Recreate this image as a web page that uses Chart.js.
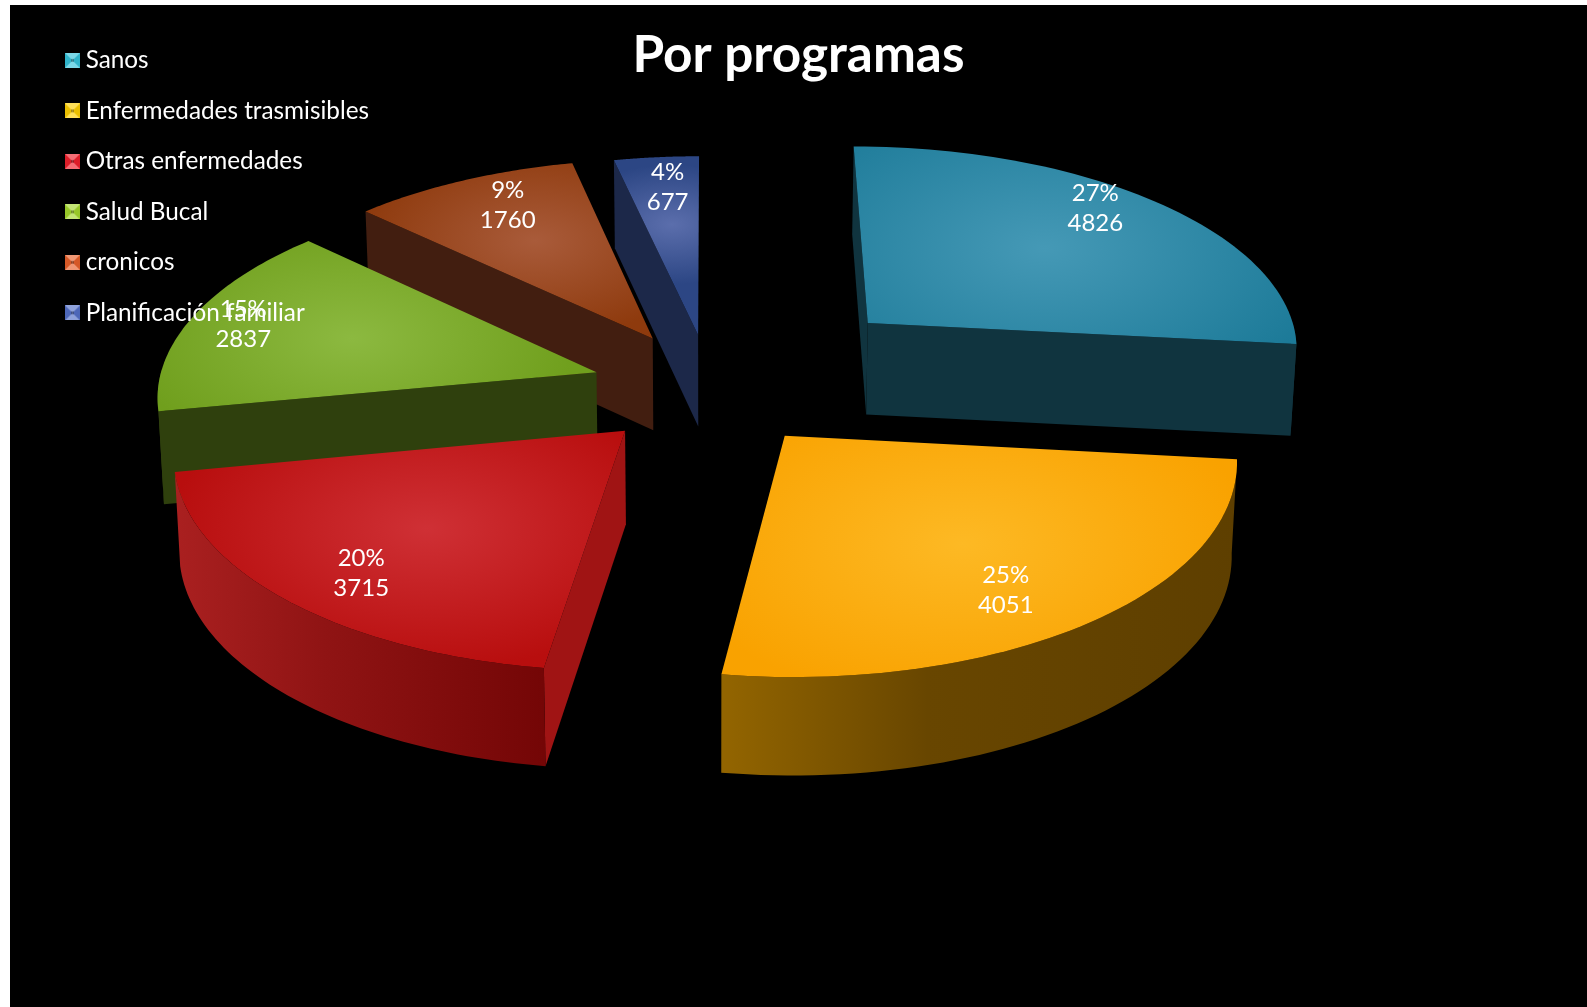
<!DOCTYPE html>
<html>
<head>
<meta charset="utf-8">
<title>Por programas</title>
<script src="https://cdn.jsdelivr.net/npm/chart.js@4"></script>
<style>
  html, body { margin: 0; background: #fff; height: 100%; overflow: hidden; }
  #wrap { position: absolute; left: 10px; top: 5px; width: 1577px; height: 1002px; background: #000; }
</style>
</head>
<body>
<div id="wrap"><canvas id="my-chart" width="1577" height="1002"></canvas></div>
<script>
const programas = ["Sanos", "Enfermedades trasmisibles", "Otras enfermedades", "Salud Bucal", "cronicos", "Planificación familiar"];
const porcentajes = [27, 25, 20, 15, 9, 4];
const casos = [4826, 4051, 3715, 2837, 1760, 677];
// share of the pie as measured on the drawn slices, the labels above are rounded
const partes = [26.7, 25.6, 19.7, 15.1, 9.4, 3.5];

// colours
const colorLeyenda = ["#35c4dc", "#ffd000", "#f0202c", "#a4d82c", "#e8602a", "#5470c8"];
const colorCentro = ["#4599b6", "#fdb924", "#cf3035", "#8cb940", "#a95b3a", "#5b6eac"];
const colorBorde = ["#1c7a98", "#f9a200", "#b80e0e", "#709f1d", "#8e3a0d", "#2c4684"];
const colorMuro = ["#10343f", "#664400", "#a01414", "#2f400d", "#421e10", "#1c2849"];
const colorBordeIzq = ["#10343f", "#936500", "#aa2020", "#2f400d", "#421e10", "#1c2849"];
const colorBordeMedio = ["#10343f", "#684600", "#901414", "#2f400d", "#421e10", "#1c2849"];
const colorBordeDer = ["#10343f", "#5e3f00", "#740606", "#2f400d", "#3c1700", "#1c2849"];

// how far each slice is pulled out, in pie radii (x right, y towards the viewer)
const despliegueX = [0.375, 0.17, -0.186, -0.257, -0.13, -0.024];
const despliegueY = [-0.283, 0.2676, 0.244, -0.035, -0.204, -0.222];

// where each label sits inside its slice, in pie radii from the slice tip
const etiquetaX = [0.591, 0.447, -0.54, -0.837, -0.372, -0.079];
const etiquetaY = [-0.628, 0.664, 0.618, -0.243, -0.727, -0.815];

// perspective of the pie plane
const vista = { cx: 698.4, cy: 374.5, ancho: 437, alto: 205, k: 0.1, conv: 0.01 };

const proyecta = (u, v) => {
  const w = 1 - vista.k * v;
  return { x: vista.cx + vista.ancho * u / w, y: vista.cy + vista.alto * v / w };
};

const baja = (p) => {
  const fondo = 88 + (p.y - 152) * 0.02;
  return { x: p.x - (p.x - vista.cx) * vista.conv, y: p.y + fondo };
};

const trazo = (ctx, puntos) => {
  ctx.beginPath();
  puntos.forEach((p, i) => (i ? ctx.lineTo(p.x, p.y) : ctx.moveTo(p.x, p.y)));
  ctx.closePath();
};

const pared = (ctx, arriba, color) => {
  trazo(ctx, arriba.concat(arriba.map(baja).reverse()));
  ctx.fillStyle = color;
  ctx.fill();
};

const tarta3d = {
  id: "tarta3d",
  beforeDraw(chart) {
    const ctx = chart.ctx;
    const arcos = chart.getDatasetMeta(0).data;
    const orden = arcos.map((a, i) => i).sort((a, b) => {
      const yDe = (i) => despliegueY[i] + 0.6 * Math.sin((arcos[i].startAngle + arcos[i].endAngle) / 2);
      return yDe(a) - yDe(b);
    });
    orden.forEach((i) => {
      const a = arcos[i];
      const u0 = despliegueX[i];
      const v0 = despliegueY[i];
      const vertice = proyecta(u0, v0);
      const pasos = 60;
      const borde = [];
      const frente = [];
      for (let s = 0; s <= pasos; s++) {
        const t = a.startAngle + (a.endAngle - a.startAngle) * s / pasos;
        const p = proyecta(u0 + Math.cos(t), v0 + Math.sin(t));
        borde.push(p);
        if (Math.sin(t) > -0.02) frente.push(p);
      }
      // walls that face the viewer
      if (-Math.cos(a.startAngle) > -0.01) pared(ctx, [vertice, borde[0]], colorMuro[i]);
      if (Math.cos(a.endAngle) > 0) pared(ctx, [vertice, borde[pasos]], colorMuro[i]);
      if (frente.length > 1) {
        const xs = frente.map((p) => p.x);
        const g = ctx.createLinearGradient(Math.min(...xs), 0, Math.max(...xs), 0);
        g.addColorStop(0, colorBordeIzq[i]);
        g.addColorStop(0.4, colorBordeMedio[i]);
        g.addColorStop(1, colorBordeDer[i]);
        pared(ctx, frente, g);
      }
      // top face, the highlight shrinks with the slice
      const medio = (a.startAngle + a.endAngle) / 2;
      const c = proyecta(u0 + 0.6 * Math.cos(medio), v0 + 0.6 * Math.sin(medio));
      const radio = 290 * Math.sqrt((a.endAngle - a.startAngle) / (Math.PI / 2));
      trazo(ctx, [vertice].concat(borde));
      ctx.save();
      ctx.translate(c.x, c.y);
      ctx.scale(1, 0.55);
      const g = ctx.createRadialGradient(0, 0, 0, 0, 0, radio);
      g.addColorStop(0, colorCentro[i]);
      g.addColorStop(1, colorBorde[i]);
      ctx.fillStyle = g;
      ctx.fill();
      ctx.restore();
    });
  },
  beforeDatasetsDraw() {
    return false;
  },
  afterLayout(chart) {
    // legend sits in the corner, next to the title
    const l = chart.legend;
    l.left = 61.5 - l.options.labels.padding;
    l.right = l.left + 450;
    l.top = 17;
    l.bottom = 400;
  },
  afterDraw(chart) {
    const ctx = chart.ctx;
    ctx.save();
    ctx.fillStyle = "#fff";
    ctx.font = "24px Lato";
    ctx.textAlign = "center";
    ctx.textBaseline = "middle";
    casos.forEach((n, i) => {
      const p = proyecta(despliegueX[i] + etiquetaX[i], despliegueY[i] + etiquetaY[i]);
      ctx.fillText(porcentajes[i] + "%", p.x, p.y - 15);
      ctx.fillText(String(n), p.x, p.y + 15);
    });
    ctx.restore();
  },
};

// small legend square with the four bevelled sides
const cuadrito = (color) => {
  const c = document.createElement("canvas");
  c.width = 15;
  c.height = 15;
  const x = c.getContext("2d");
  x.fillStyle = color;
  x.fillRect(0, 0, 15, 15);
  x.fillStyle = "rgba(255,255,255,0.35)";
  x.beginPath();
  x.moveTo(0, 0);
  x.lineTo(15, 0);
  x.lineTo(7.5, 7.5);
  x.moveTo(0, 15);
  x.lineTo(15, 15);
  x.lineTo(7.5, 7.5);
  x.fill();
  x.fillStyle = "rgba(0,0,0,0.08)";
  x.beginPath();
  x.moveTo(0, 0);
  x.lineTo(0, 15);
  x.lineTo(7.5, 7.5);
  x.moveTo(15, 0);
  x.lineTo(15, 15);
  x.lineTo(7.5, 7.5);
  x.fill();
  x.fillStyle = "rgba(0,0,0,0.3)";
  x.fillRect(6, 6, 3, 3);
  return c;
};

let ctx = document.getElementById("my-chart").getContext("2d");
let chart = new Chart(ctx, {
  type: "pie",
  data: {
    labels: programas,
    datasets: [
      {
        data: partes,
        backgroundColor: colorLeyenda,
        borderWidth: 0,
      },
    ],
  },
  plugins: [tarta3d],
  options: {
    responsive: false,
    animation: false,
    rotation: 0,
    plugins: {
      tooltip: { enabled: false },
      title: {
        display: true,
        text: "Por programas",
        color: "#fff",
        font: { family: "Lato", size: 51.3, weight: "bold" },
        padding: { top: 20, bottom: 10 },
      },
      legend: {
        position: "left",
        align: "start",
        labels: {
          color: "#fff",
          font: { family: "Lato", size: 24.3 },
          boxWidth: 2,
          boxHeight: 15,
          padding: 26.2,
          usePointStyle: true,
          generateLabels(c) {
            return programas.map((nombre, i) => ({
              text: nombre,
              fontColor: "#fff",
              pointStyle: cuadrito(colorLeyenda[i]),
              lineWidth: 0,
              index: i,
            }));
          },
        },
      },
    },
  },
});
</script>
</body>
</html>
